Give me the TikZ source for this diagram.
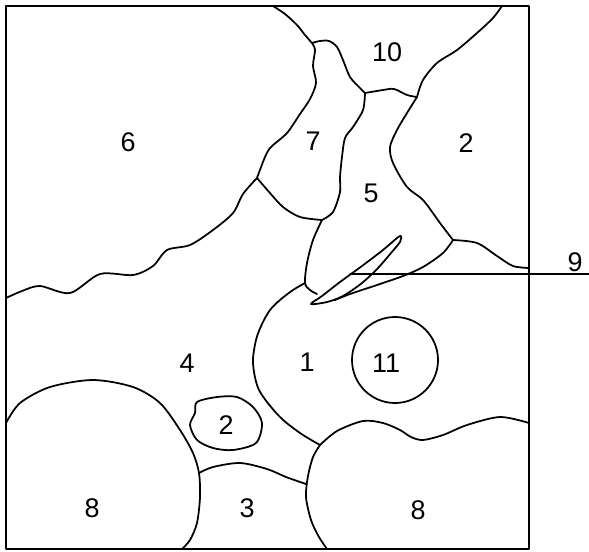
\documentclass[tikz,border=0pt]{standalone}
\usepackage{fontspec}
\setmainfont{Liberation Sans}
\usepackage{tikz}

\begin{document}
\begin{tikzpicture}[
    x=0.03cm, y=-0.03cm,
    edge/.style={line width=1.5pt, line join=round, line cap=round},
    lbl/.style={font=\fontsize{23}{23}\selectfont, inner sep=0pt}
]
\useasboundingbox (0,0) rectangle (589,551);

% frame
\draw[edge] (6,6) rectangle (529,549);

% region 6 / 4 and 7
\draw[edge] plot[smooth] coordinates {(6,298) (22,291) (40,286) (70,293) (100,274) (133,275) (153,266) (167,250) (190,245) (213,230) (233,213) (243,194) (257,178)};
\draw[edge] plot[smooth] coordinates {(257,178) (265,157) (271,147) (287,133) (300,114) (310,99) (316,83) (313,66) (315,50) (312,43)};
\draw[edge] plot[smooth] coordinates {(273,6) (285,14) (297,25) (305,35) (312,43)};
\draw[edge] plot[smooth] coordinates {(312,43) (320,41) (329,41) (337,47) (343,60) (350,77) (360,88) (365,93)};
\draw[edge] plot[smooth] coordinates {(257,178) (270,193) (283,207) (300,217) (322,220)};

% region 10
\draw[edge] plot[smooth] coordinates {(365,93) (383,90) (394,89) (407,95) (417,97)};
\draw[edge] plot[smooth] coordinates {(417,97) (423,80) (437,63) (457,50) (477,33) (493,18) (502,6)};

% region 5 / 2
\draw[edge] plot[smooth] coordinates {(417,97) (407,113) (397,130) (390,147) (393,163) (407,187) (423,200) (440,223) (453,240)};
\draw[edge] plot[smooth] coordinates {(453,240) (477,243) (497,256) (513,266) (529,268)};
\draw[edge] plot[smooth] coordinates {(365,93) (363,110) (353,127) (345,138) (342,157) (340,177) (340,192) (333,212) (322,220)};
\draw[edge] plot[smooth] coordinates {(322,220) (313,240) (307,263) (305,283) (310,290) (317,294)};
\draw[edge] plot[smooth] coordinates {(453,240) (443,253) (423,267) (403,276) (377,285) (350,294) (335,300)};

% region 9
\draw[edge] plot[smooth cycle] coordinates {(311,304) (322,296) (340,282) (362,266) (383,250) (397,238) (401,236) (400,242) (391,253) (378,268) (362,283) (343,296) (327,302)};

% region 1
\draw[edge] plot[smooth] coordinates {(305,283) (293,290) (280,300) (270,310) (262,324) (256,340) (253,363) (259,390) (279,416) (300,433) (320,445)};
\draw[edge] (395,360) circle [radius=43];

% region 8 (right) and 3
\draw[edge] plot[smooth] coordinates {(320,445) (337,431) (363,421) (383,423) (400,430) (411,437) (423,440) (443,435) (467,425) (500,417) (529,423)};
\draw[edge] plot[smooth] coordinates {(320,445) (313,457) (308,476) (306,497) (311,520) (319,537) (327,549)};
\draw[edge] plot[smooth] coordinates {(199,473) (213,467) (240,463) (267,469) (286,477) (306,484)};

% region 8 (left)
\draw[edge] plot[smooth] coordinates {(6,423) (20,403) (50,387) (93,380) (133,387) (160,403) (180,430) (193,453) (199,473) (200,497) (197,523) (190,540) (182,549)};

% region 2 (small)
\draw[edge] plot[smooth cycle] coordinates {(197,402) (217,397) (237,397) (253,407) (262,423) (256,443) (233,450) (213,448) (197,440) (190,425) (195,413)};

% pointer to 9
\coordinate (tip9) at (350,274);
\coordinate (end9) at (589,274);
\draw[edge, line width=1.2pt] (tip9) -- (end9);

% labels
\node[lbl] (six) at (128,142) {6};
\node[lbl] (ten) at (387,52) {10};
\node[lbl] (seven) at (313,141) {7};
\node[lbl] (twoA) at (466,143) {2};
\node[lbl] (five) at (371,193) {5};
\node[lbl] (nine) at (575,262) {9};
\node[lbl] (four) at (187,363) {4};
\node[lbl] (one) at (307,362) {1};
\node[lbl] (eleven) at (386,363) {11};
\node[lbl] (twoB) at (226,425) {2};
\node[lbl] (eightA) at (92,508) {8};
\node[lbl] (three) at (247,508) {3};
\node[lbl] (eightB) at (418,510) {8};
\end{tikzpicture}
\end{document}
